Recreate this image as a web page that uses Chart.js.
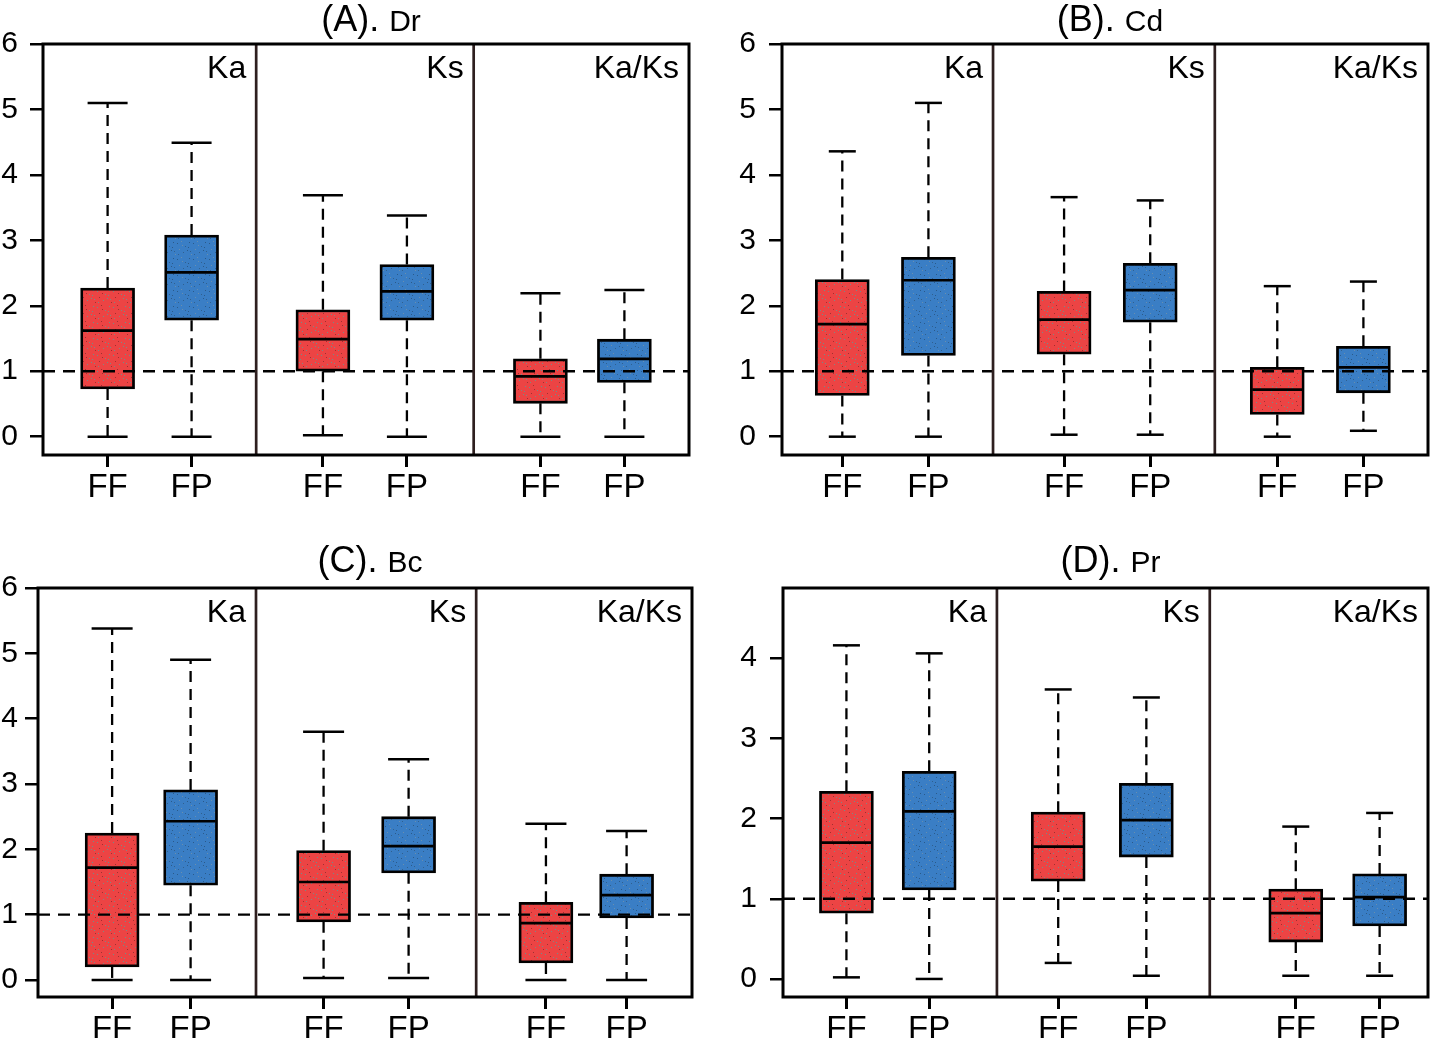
<!DOCTYPE html>
<html>
<head>
<meta charset="utf-8">
<script src="https://cdn.jsdelivr.net/npm/chart.js@4.4.1/dist/chart.umd.min.js"></script>
<style>
  body { margin: 0; background: #fff; }
  .panel { position: absolute; width: 715px; height: 519px; }
</style>
</head>
<body>
<div class="panel" style="left:0;top:0"><canvas id="pA" width="715" height="519"></canvas></div>
<div class="panel" style="left:715px;top:0"><canvas id="pB" width="715" height="519"></canvas></div>
<div class="panel" style="left:0;top:519px"><canvas id="pC" width="715" height="519"></canvas></div>
<div class="panel" style="left:715px;top:519px"><canvas id="pD" width="715" height="519"></canvas></div>
<script>
// box order: Ka FF, Ka FP, Ks FF, Ks FP, Ka/Ks FF, Ka/Ks FP
const groups = ["FF", "FP"];
const rates = ["Ka", "Ks", "Ka/Ks"];

// (A) Dr
const drMin = [0, 0, 0.02, 0, 0, 0];
const drQ1  = [0.73, 1.78, 1.00, 1.78, 0.51, 0.83];
const drMed = [1.62, 2.51, 1.49, 2.22, 0.92, 1.19];
const drQ3  = [2.27, 3.08, 1.94, 2.63, 1.19, 1.49];
const drMax = [5.10, 4.49, 3.69, 3.38, 2.19, 2.24];

// (B) Cd
const cdMin = [0, 0, 0.03, 0.03, 0, 0.09];
const cdQ1  = [0.63, 1.24, 1.26, 1.75, 0.34, 0.67];
const cdMed = [1.72, 2.39, 1.79, 2.24, 0.72, 1.06];
const cdQ3  = [2.40, 2.74, 2.22, 2.65, 1.06, 1.38];
const cdMax = [4.36, 5.10, 3.66, 3.61, 2.30, 2.37];

// (C) Bc
const bcMin = [0, 0, 0.03, 0.03, 0, 0];
const bcQ1  = [0.20, 1.45, 0.89, 1.64, 0.26, 0.95];
const bcMed = [1.72, 2.43, 1.50, 2.05, 0.87, 1.30];
const bcQ3  = [2.25, 2.91, 1.98, 2.50, 1.19, 1.62];
const bcMax = [5.38, 4.90, 3.80, 3.38, 2.39, 2.28];

// (D) Pr
const prMin = [0.02, 0, 0.20, 0.04, 0.04, 0.04];
const prQ1  = [0.82, 1.11, 1.22, 1.52, 0.46, 0.66];
const prMed = [1.70, 2.09, 1.65, 1.98, 0.82, 1.02];
const prQ3  = [2.34, 2.59, 2.08, 2.44, 1.12, 1.31];
const prMax = [4.16, 4.06, 3.61, 3.51, 1.90, 2.07];

const ticks6 = [0, 1, 2, 3, 4, 5, 6];
const ticks4 = [0, 1, 2, 3, 4];

const FONT = '"Liberation Sans", Arial, Helvetica, sans-serif';

function makePattern(base, dots) {
  const c = document.createElement("canvas");
  c.width = c.height = 16;
  const g = c.getContext("2d");
  g.fillStyle = base;
  g.fillRect(0, 0, 16, 16);
  const pts = [[1,3],[5,1],[9,6],[13,2],[3,9],[7,12],[11,10],[15,14],[2,14],[12,7],[6,5],[14,11]];
  pts.forEach(([x, y], k) => {
    g.fillStyle = dots[k % dots.length];
    g.fillRect(x, y, 1, 1);
  });
  return g.createPattern(c, "repeat");
}
const redFill = makePattern("#ec4444", ["#6f8f8a", "#a03030", "#7d8a86"]);
const blueFill = makePattern("#3a7ec5", ["#2a5a8a", "#6a8fae", "#30608f"]);

const panels = [
  { canvas: "pA", title: ["(A).", "Dr"], min: drMin, q1: drQ1, med: drMed, q3: drQ3, max: drMax,
    yMin: -0.28, yMax: 6, yTicks: ticks6,
    pos: [0.30, 0.69, 1.30, 1.69, 2.31, 2.70], div: [0.99, 2.00],
    top: 44, right: 26, yw: 43, xh: 64, cap: 40, titleY: 31, yPad: 12 },
  { canvas: "pB", title: ["(B).", "Cd"], min: cdMin, q1: cdQ1, med: cdMed, q3: cdQ3, max: cdMax,
    yMin: -0.28, yMax: 6, yTicks: ticks6,
    pos: [0.28, 0.68, 1.31, 1.71, 2.30, 2.70], div: [0.98, 2.01],
    top: 44, right: 2, yw: 67, xh: 64, cap: 27, titleY: 31, yPad: 13 },
  { canvas: "pC", title: ["(C).", "Bc"], min: bcMin, q1: bcQ1, med: bcMed, q3: bcQ3, max: bcMax,
    yMin: -0.26, yMax: 6, yTicks: ticks6,
    pos: [0.34, 0.70, 1.31, 1.70, 2.33, 2.70], div: [1.00, 2.01],
    top: 69, right: 23, yw: 38, xh: 41, cap: 41, titleY: 53, yPad: 7 },
  { canvas: "pD", title: ["(D).", "Pr"], min: prMin, q1: prQ1, med: prMed, q3: prQ3, max: prMax,
    yMin: -0.225, yMax: 4.875, yTicks: ticks4,
    pos: [0.295, 0.68, 1.28, 1.69, 2.385, 2.775], div: [0.995, 1.985],
    top: 69, right: 2, yw: 68, xh: 41, cap: 27, titleY: 53, yPad: 13 }
];

function line(ctx, x1, y1, x2, y2) {
  ctx.beginPath();
  ctx.moveTo(x1, y1);
  ctx.lineTo(x2, y2);
  ctx.stroke();
}

function decor(p) {
  return {
    id: "decor",
    beforeDatasetsDraw(chart) {
      const ctx = chart.ctx, xs = chart.scales.x, ys = chart.scales.y;
      ctx.save();
      ctx.strokeStyle = "#000";
      p.pos.forEach((xv, i) => {
        const x = xs.getPixelForValue(xv);
        const yMaxPx = ys.getPixelForValue(p.max[i]);
        const yMinPx = ys.getPixelForValue(p.min[i]);
        ctx.lineWidth = 2.3;
        ctx.setLineDash([11, 7]);
        line(ctx, x, ys.getPixelForValue(p.q3[i]), x, yMaxPx);
        line(ctx, x, ys.getPixelForValue(p.q1[i]), x, yMinPx);
        ctx.setLineDash([]);
        ctx.lineWidth = 2.5;
        line(ctx, x - p.cap / 2, yMaxPx, x + p.cap / 2, yMaxPx);
        line(ctx, x - p.cap / 2, yMinPx, x + p.cap / 2, yMinPx);
      });
      ctx.restore();
    },
    afterDatasetsDraw(chart) {
      const ctx = chart.ctx, xs = chart.scales.x, ys = chart.scales.y;
      const a = chart.chartArea;
      ctx.save();
      ctx.strokeStyle = "#000";
      // medians
      ctx.lineWidth = 2.7;
      p.pos.forEach((xv, i) => {
        const x = xs.getPixelForValue(xv);
        const y = ys.getPixelForValue(p.med[i]);
        line(ctx, x - 25, y, x + 25, y);
      });
      // reference line at 1
      ctx.lineWidth = 2.3;
      ctx.setLineDash([12, 8]);
      const y1 = ys.getPixelForValue(1);
      line(ctx, a.left, y1, a.right, y1);
      ctx.setLineDash([]);
      // dividers
      ctx.strokeStyle = "#2e1f1f";
      ctx.lineWidth = 2.7;
      p.div.forEach(d => {
        const x = xs.getPixelForValue(d);
        line(ctx, x, a.top, x, a.bottom);
      });
      // frame
      ctx.strokeStyle = "#000";
      ctx.lineWidth = 3;
      ctx.strokeRect(a.left, a.top, a.right - a.left, a.bottom - a.top);
      ctx.restore();
    },
    afterDraw(chart) {
      const ctx = chart.ctx, xs = chart.scales.x;
      const a = chart.chartArea;
      ctx.save();
      ctx.fillStyle = "#000";
      // sub-panel labels
      ctx.font = "32px " + FONT;
      ctx.textAlign = "right";
      ctx.textBaseline = "alphabetic";
      const edges = p.div.map(d => xs.getPixelForValue(d)).concat([a.right]);
      rates.forEach((r, k) => ctx.fillText(r, edges[k] - 10, a.top + 34));
      // title
      ctx.textAlign = "left";
      ctx.font = "36px " + FONT;
      const w1 = ctx.measureText(p.title[0] + " ").width;
      ctx.font = "30px " + FONT;
      const w2 = ctx.measureText(p.title[1]).width;
      const x0 = (a.left + a.right) / 2 - (w1 + w2) / 2 + 5;
      ctx.font = "36px " + FONT;
      ctx.fillText(p.title[0] + " ", x0, p.titleY);
      ctx.font = "30px " + FONT;
      ctx.fillText(p.title[1], x0 + w1, p.titleY);
      ctx.restore();
    }
  };
}

panels.forEach(p => {
  new Chart(document.getElementById(p.canvas), {
    type: "bar",
    data: {
      datasets: [{
        data: p.pos.map((x, i) => ({ x: x, y: [p.q1[i], p.q3[i]] })),
        backgroundColor: p.pos.map((_, i) => i % 2 ? blueFill : redFill),
        borderColor: "#000",
        borderWidth: 2.8,
        borderSkipped: false,
        barThickness: 54
      }]
    },
    options: {
      responsive: false,
      animation: false,
      layout: { padding: { top: p.top, right: p.right, left: 0, bottom: 0 } },
      plugins: {
        legend: { display: false },
        tooltip: { enabled: false },
        title: { display: false }
      },
      scales: {
        x: {
          type: "linear",
          min: 0,
          max: 3,
          bounds: "data",
          offset: false,
          border: { display: false },
          grid: { offset: false, drawOnChartArea: false, tickLength: 12, lineWidth: 3, color: "#000" },
          ticks: {
            autoSkip: false,
            maxRotation: 0,
            padding: 1,
            color: "#000",
            font: { size: 33, family: FONT },
            callback: (v, i) => groups[i % 2]
          },
          afterBuildTicks: s => { s.ticks = p.pos.map(v => ({ value: v })); },
          afterFit: s => { s.height = p.xh; }
        },
        y: {
          min: p.yMin,
          max: p.yMax,
          bounds: "data",
          border: { display: false },
          grid: { drawOnChartArea: false, tickLength: 13, lineWidth: 2.5, color: "#000" },
          ticks: {
            padding: p.yPad,
            color: "#000",
            font: { size: 30, family: FONT },
            callback: v => String(v)
          },
          afterBuildTicks: s => { s.ticks = p.yTicks.map(v => ({ value: v })); },
          afterFit: s => { s.width = p.yw; }
        }
      }
    },
    plugins: [decor(p)]
  });
});
</script>
</body>
</html>
